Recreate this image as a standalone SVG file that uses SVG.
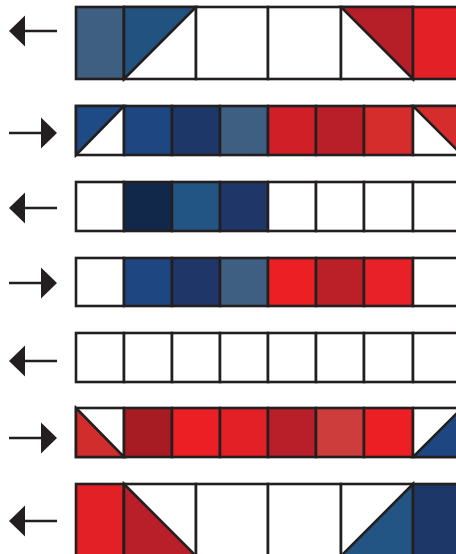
<svg xmlns="http://www.w3.org/2000/svg" width="456" height="554" viewBox="0 0 456 554">
<style>
rect.k, polygon.c { stroke: #231f20; stroke-width: 2.6; stroke-linejoin: miter; }
.w { fill: #ffffff; }
.ah { fill: #231f20; }
.sh { stroke: #231f20; stroke-width: 2.4; }
</style>
<defs>
<g id="la"><line class="sh" x1="24" y1="0" x2="57" y2="0"/><polygon class="ah" points="9,0 25,-15.5 25,15.5"/></g>
<g id="ra"><line class="sh" x1="9" y1="0" x2="42" y2="0"/><polygon class="ah" points="57,0 41,-15.5 41,15.5"/></g>
</defs>
<rect x="0" y="0" width="456" height="554" fill="#ffffff"/>

<g id="arrows">
<use href="#la" y="31"/>
<use href="#ra" y="133"/>
<use href="#la" y="208"/>
<use href="#ra" y="283"/>
<use href="#la" y="361"/>
<use href="#ra" y="438"/>
<use href="#la" y="521"/>
</g>

<g id="row1">
<rect class="k" x="76" y="7" width="48" height="72" fill="#3e5f82"/>
<rect class="k w" x="124" y="7" width="72" height="72"/>
<polygon class="c" points="124,7 196,7 124,79" fill="#22527f"/>
<rect class="k w" x="196" y="7" width="72" height="72"/>
<rect class="k w" x="268" y="7" width="73" height="72"/>
<rect class="k w" x="341" y="7" width="72" height="72"/>
<polygon class="c" points="341,7 413,7 413,79" fill="#b71f28"/>
<rect class="k" x="413" y="7" width="72" height="72" fill="#e32026"/>
</g>

<g id="row2">
<rect class="k w" x="76" y="106" width="48" height="49"/>
<polygon class="c" points="76,106 124,106 76,155" fill="#1e4a86"/>
<rect class="k" x="124" y="106" width="48" height="49" fill="#1e4680"/>
<rect class="k" x="172" y="106" width="48" height="49" fill="#1d3768"/>
<rect class="k" x="220" y="106" width="48" height="49" fill="#3f5f82"/>
<rect class="k" x="268" y="106" width="48" height="49" fill="#d01f26"/>
<rect class="k" x="316" y="106" width="48" height="49" fill="#b91f28"/>
<rect class="k" x="364" y="106" width="49" height="49" fill="#d42d2c"/>
<rect class="k w" x="413" y="106" width="49" height="49"/>
<polygon class="c" points="413,106 462,106 462,155" fill="#d42d2c"/>
</g>

<g id="row3">
<rect class="k w" x="76" y="182" width="48" height="49"/>
<rect class="k" x="124" y="182" width="48" height="49" fill="#12284b"/>
<rect class="k" x="172" y="182" width="48" height="49" fill="#235584"/>
<rect class="k" x="220" y="182" width="48" height="49" fill="#1e3768"/>
<rect class="k w" x="268" y="182" width="48" height="49"/>
<rect class="k w" x="316" y="182" width="48" height="49"/>
<rect class="k w" x="364" y="182" width="49" height="49"/>
<rect class="k w" x="413" y="182" width="49" height="49"/>
</g>

<g id="row4">
<rect class="k w" x="76" y="258" width="48" height="48"/>
<rect class="k" x="124" y="258" width="48" height="48" fill="#1e4680"/>
<rect class="k" x="172" y="258" width="48" height="48" fill="#1e3768"/>
<rect class="k" x="220" y="258" width="48" height="48" fill="#3f5f82"/>
<rect class="k" x="268" y="258" width="48" height="48" fill="#ec2024"/>
<rect class="k" x="316" y="258" width="48" height="48" fill="#bb1f28"/>
<rect class="k" x="364" y="258" width="49" height="48" fill="#e82027"/>
<rect class="k w" x="413" y="258" width="49" height="48"/>
</g>

<g id="row5">
<rect class="k w" x="76" y="333" width="48" height="49"/>
<rect class="k w" x="124" y="333" width="48" height="49"/>
<rect class="k w" x="172" y="333" width="48" height="49"/>
<rect class="k w" x="220" y="333" width="48" height="49"/>
<rect class="k w" x="268" y="333" width="48" height="49"/>
<rect class="k w" x="316" y="333" width="48" height="49"/>
<rect class="k w" x="364" y="333" width="49" height="49"/>
<rect class="k w" x="413" y="333" width="49" height="49"/>
</g>

<g id="row6">
<rect class="k w" x="76" y="408" width="48" height="49"/>
<polygon class="c" points="76,408 124,457 76,457" fill="#d22d2d"/>
<rect class="k" x="124" y="408" width="48" height="49" fill="#a61c22"/>
<rect class="k" x="172" y="408" width="48" height="49" fill="#ec2024"/>
<rect class="k" x="220" y="408" width="48" height="49" fill="#e32026"/>
<rect class="k" x="268" y="408" width="48" height="49" fill="#b91f28"/>
<rect class="k" x="316" y="408" width="48" height="49" fill="#cc3d3b"/>
<rect class="k" x="364" y="408" width="49" height="49" fill="#ec2024"/>
<rect class="k w" x="413" y="408" width="49" height="49"/>
<polygon class="c" points="462,408 462,457 413,457" fill="#1e4680"/>
</g>

<g id="row7">
<rect class="k" x="76" y="484" width="48" height="72" fill="#e32026"/>
<rect class="k w" x="124" y="484" width="72" height="72"/>
<polygon class="c" points="124,484 196,556 124,556" fill="#b91f28"/>
<rect class="k w" x="196" y="484" width="72" height="72"/>
<rect class="k w" x="268" y="484" width="73" height="72"/>
<rect class="k w" x="341" y="484" width="72" height="72"/>
<polygon class="c" points="413,484 413,556 341,556" fill="#235584"/>
<rect class="k" x="413" y="484" width="72" height="72" fill="#1d3768"/>
</g>
</svg>
